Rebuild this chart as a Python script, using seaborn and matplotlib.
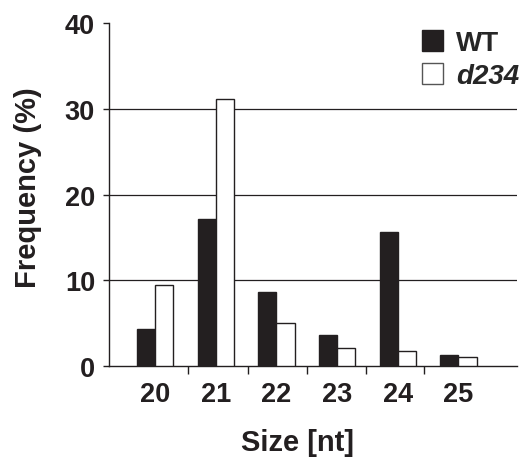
import matplotlib
matplotlib.use("Agg")
import matplotlib.pyplot as plt
import seaborn as sns
import pandas as pd
from matplotlib.patches import Patch
from matplotlib.ticker import FixedLocator

sizes = ["20", "21", "22", "23", "24", "25"]
wt = [4.3, 17.2, 8.7, 3.6, 15.7, 1.25]
d234 = [9.5, 31.2, 5.0, 2.1, 1.8, 1.1]
series = ["WT", "d234"]
yticks = [0, 10, 20, 30, 40]

df = pd.DataFrame({
    "Size": sizes * 2,
    "Frequency": wt + d234,
    "Genotype": [series[0]] * len(sizes) + [series[1]] * len(sizes),
})

sns.set_style("white")
plt.rcParams["font.family"] = ["Liberation Sans", "DejaVu Sans"]
plt.rcParams["font.weight"] = "bold"

fig = plt.figure(figsize=(5.24, 4.6), dpi=100)
ax = fig.add_axes([0.208, 0.202, 0.779, 0.745])

palette = {"WT": "#231f20", "d234": "#ffffff"}
sns.barplot(data=df, x="Size", y="Frequency", hue="Genotype", order=sizes,
            hue_order=series, palette=palette, width=0.6, dodge=True,
            edgecolor="#231f20", linewidth=1.0, saturation=1, legend=False, ax=ax,
            zorder=3)

ax.set_ylim(0, 40)
ax.set_xlim(-0.76, 5.97)
ax.set_yticks(yticks)
for y in yticks[1:-1]:
    ax.axhline(y, color="#231f20", lw=0.9, zorder=1)

for side in ["top", "right"]:
    ax.spines[side].set_visible(False)
for side in ["left", "bottom"]:
    ax.spines[side].set_color("#231f20")
    ax.spines[side].set_linewidth(1.0)

ax.tick_params(axis="y", which="major", length=4, width=1, color="#231f20",
               labelsize=19.5, pad=6, left=True)
ax.tick_params(axis="x", which="major", length=0, labelsize=19.5, pad=11)
ax.xaxis.set_minor_locator(FixedLocator([0.55, 1.53, 2.5, 3.47, 4.44]))
ax.tick_params(axis="x", which="minor", length=6, width=1, color="#231f20",
               bottom=True, direction="out")
for lbl in ax.get_xticklabels() + ax.get_yticklabels():
    lbl.set_fontweight("bold")
    lbl.set_color("#231f20")

ax.set_xlabel("Size [nt]", fontsize=21, fontweight="bold", color="#231f20")
ax.set_ylabel("Frequency (%)", fontsize=21, fontweight="bold", color="#231f20")
ax.xaxis.set_label_coords(0.463, -0.18)
ax.yaxis.set_label_coords(-0.164, 0.524)

handles = [Patch(facecolor="#231f20", edgecolor="#231f20", label="WT"),
           Patch(facecolor="white", edgecolor="#555555", label="d234")]
leg = ax.legend(handles=handles, loc="upper right", bbox_to_anchor=(1.067, 1.053),
                frameon=False, fontsize=20, handlelength=0.75, handleheight=0.75,
                handletextpad=0.5, labelspacing=0.25)
texts = leg.get_texts()
texts[0].set_fontweight("bold")
texts[1].set_fontweight("bold")
texts[1].set_fontstyle("italic")

fig.savefig("out.png", dpi=100)
